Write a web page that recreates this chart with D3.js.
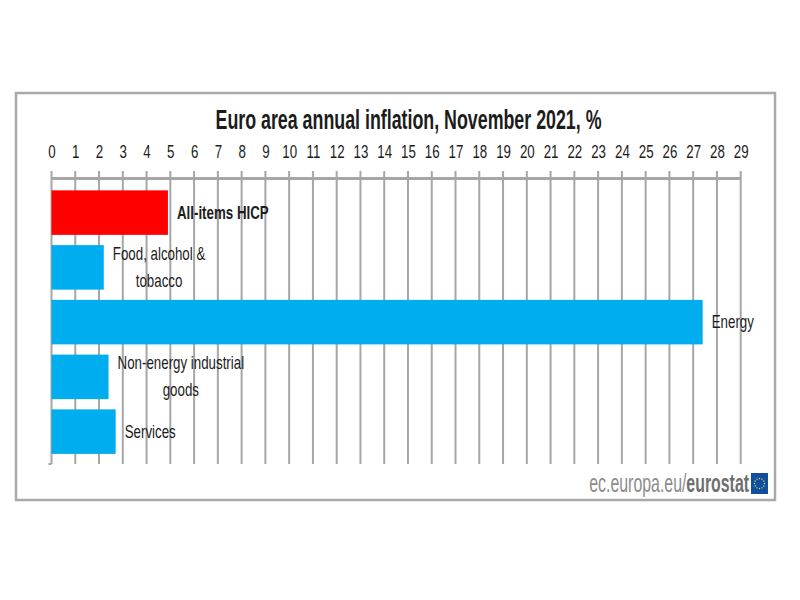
<!DOCTYPE html>
<html>
<head>
<meta charset="utf-8">
<script src="https://cdn.jsdelivr.net/npm/d3@7"></script>
<style>
  html, body { margin: 0; padding: 0; background: #fff; }
  svg { display: block; }
  text { font-family: "Liberation Sans", Arial, sans-serif; fill: #1c1c1c; }
</style>
</head>
<body>
<div id="chart"></div>
<script>
const categories = ["All-items HICP", "Food, alcohol & tobacco", "Energy", "Non-energy industrial goods", "Services"];
const values = [4.9, 2.2, 27.4, 2.4, 2.7];
const labelLines = [["All-items HICP"], ["Food, alcohol &", "tobacco"], ["Energy"], ["Non-energy industrial", "goods"], ["Services"]];
const barColors = ["#ff0000", "#00aeef", "#00aeef", "#00aeef", "#00aeef"];
const tickValues = d3.range(0, 30);

const width = 800, height = 600;
const margin = {top: 178, right: 59.3, bottom: 136, left: 51.5};
const grey = "#a6a6a6";
// no narrow font installed, so the condensed look is done with a horizontal squeeze
const squeeze = 0.74;

const svg = d3.select("#chart").append("svg")
    .attr("width", width)
    .attr("height", height);

// outer frame
svg.append("rect")
    .attr("x", 16).attr("y", 93)
    .attr("width", 759).attr("height", 407)
    .attr("fill", "#fff")
    .attr("stroke", "#a9a9a9")
    .attr("stroke-width", 2.5);

svg.append("text")
    .attr("transform", "translate(408.5, 129) scale(0.66, 1)")
    .attr("text-anchor", "middle")
    .style("font-size", "27px")
    .style("font-weight", "bold")
    .text("Euro area annual inflation, November 2021, %");

let x = d3.scaleLinear()
    .domain([0, 29])
    .range([margin.left, width - margin.right]);

let y = d3.scaleBand()
    .domain(categories)
    .range([margin.top, height - margin.bottom])
    .paddingInner(0.187)
    .paddingOuter(0.205)
    .align(0.55);

// gridlines go under the bars and labels
svg.append("g")
    .attr("stroke", grey)
    .attr("stroke-width", 2)
  .selectAll("line")
  .data(tickValues)
  .join("line")
    .attr("x1", d => x(d))
    .attr("x2", d => x(d))
    .attr("y1", margin.top - 7)
    .attr("y2", height - margin.bottom);

let xAxis = g => g
    .attr("transform", `translate(0, ${margin.top})`)
    .call(d3.axisTop(x).tickValues(tickValues).tickSize(0).tickPadding(20).tickFormat(d3.format("d")))
    .call(g => g.select(".domain").attr("stroke", grey).attr("stroke-width", 3))
    .call(g => g.selectAll("text")
      .style("font-size", "18px")
      .attr("fill", "#1c1c1c")
      .attr("transform", `scale(${squeeze}, 1)`));

svg.append("g").call(xAxis);

// small foot of the category axis
svg.append("line")
    .attr("x1", margin.left - 3).attr("x2", margin.left)
    .attr("y1", height - margin.bottom).attr("y2", height - margin.bottom)
    .attr("stroke", grey).attr("stroke-width", 2);

svg.append("g")
  .selectAll("rect")
  .data(categories)
  .join("rect")
    .attr("x", x(0))
    .attr("y", d => y(d))
    .attr("width", (d, i) => x(values[i]) - x(0))
    .attr("height", y.bandwidth())
    .attr("fill", (d, i) => barColors[i]);

const labels = svg.append("g")
  .selectAll("g")
  .data(categories)
  .join("g");

labels.each(function(d, i) {
  const lines = labelLines[i];
  const cy = y(d) + y.bandwidth() / 2;
  const texts = d3.select(this).selectAll("text")
    .data(lines)
    .join("text")
      .attr("text-anchor", "middle")
      .style("font-size", "18px")
      .style("font-weight", i === 0 ? "bold" : "normal")
      .text(t => t);
  const widest = d3.max(texts.nodes(), n => n.getComputedTextLength()) * squeeze;
  const cx = x(values[i]) + 9 + widest / 2;
  texts.attr("transform", (t, j) =>
    `translate(${cx}, ${cy + 6 + (j - (lines.length - 1) / 2) * 27}) scale(${squeeze}, 1)`);
});

// source line and flag
const source = svg.append("text")
    .attr("transform", "translate(749, 492) scale(0.635, 1)")
    .attr("text-anchor", "end")
    .style("font-size", "25px");
source.append("tspan").style("fill", "#8c8c8c").text("ec.europa.eu/");
source.append("tspan").style("fill", "#6f6f6f").style("font-weight", "bold").text("eurostat");

const flag = svg.append("g").attr("transform", "translate(751, 473)");
flag.append("rect").attr("width", 17).attr("height", 21).attr("fill", "#0f4f9e");
flag.append("g")
  .selectAll("circle")
  .data(d3.range(12))
  .join("circle")
    .attr("cx", d => 8.5 + 5 * Math.cos(d * Math.PI / 6))
    .attr("cy", d => 10.5 + 5 * Math.sin(d * Math.PI / 6))
    .attr("r", 0.7)
    .attr("fill", "#e8d85a");
</script>
</body>
</html>
